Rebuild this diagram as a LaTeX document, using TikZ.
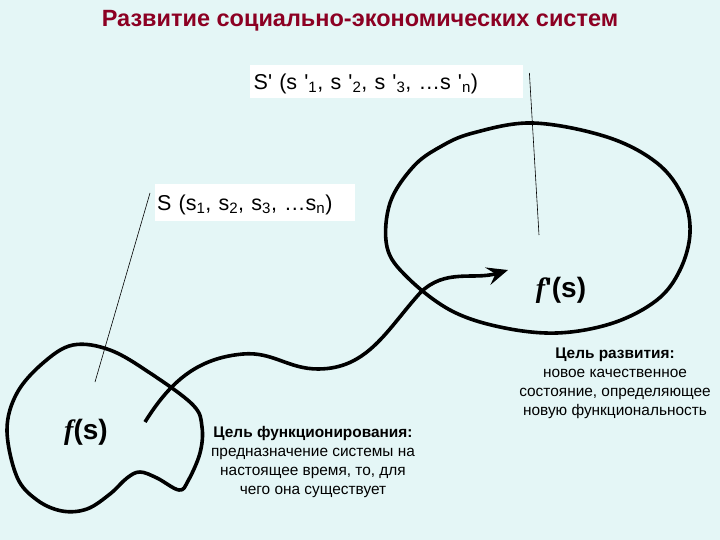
\documentclass[tikz,border=0pt]{standalone}
\usepackage{fontspec}
\setmainfont{Liberation Sans}
\newfontfamily\fserif{Liberation Serif}
\usetikzlibrary{arrows.meta}
\definecolor{bgcyan}{RGB}{228,246,246}
\definecolor{titlered}{RGB}{140,0,35}
\newcommand{\pr}{\textquotesingle}
\newcommand{\fsym}{{\fserif\bfseries\itshape f}}

\begin{document}
\begin{tikzpicture}[x=1pt,y=1pt,
    blob/.style={line width=3.6pt,line join=round},
    pointer/.style={line width=0.6pt},
    setbox/.style={fill=white,font=\fontsize{21.5}{24}\selectfont,anchor=north west,
                   inner sep=0pt,minimum height=33pt,text depth=0pt},
    fun/.style={font=\fontsize{28}{30}\selectfont\bfseries},
    note/.style={align=center,font=\fontsize{15.4}{19}\selectfont}]
      \fill[bgcyan] (0,0) rectangle (720,-540);
      \useasboundingbox (0,0) rectangle (720,-540);

      \node[font=\fontsize{23.5}{26}\selectfont\bfseries,text=titlered] (title) at (360,-21) {Развитие социально-экономических систем};

      % set descriptions
      \node[setbox,minimum width=273pt,text width=268pt,align=left] (Snew) at (250,-65)
        {\hspace*{1pt}S\pr{} (s \pr\textsubscript{1}, s \pr\textsubscript{2}, s \pr\textsubscript{3}, \dots s \pr\textsubscript{n})};
      \node[setbox,minimum width=200pt,text width=198pt,align=left,minimum height=37pt] (Sold) at (155,-184)
        {\hspace*{1pt}S (s\textsubscript{1}, s\textsubscript{2}, s\textsubscript{3}, \dots s\textsubscript{n})};

      % systems
      \draw[blob] plot[smooth cycle,tension=0.6] coordinates {
        (73,-345) (110,-350) (150,-373) (193,-405) (202,-427) (200,-453) (188,-481)
        (179,-490) (157,-478) (140,-472) (127,-478) (110,-494) (87,-509) (62,-511)
        (37,-500) (17,-477) (7,-430) (17,-393) (43,-363)};
      \draw[blob] plot[smooth cycle,tension=0.6] coordinates {
        (473,-133) (533,-123) (607,-137) (657,-163) (683,-197) (690,-233) (680,-270)
        (657,-300) (613,-323) (557,-333) (500,-327) (450,-310) (407,-277) (387,-247)
        (390,-203) (413,-167) (440,-147)};

      \node[fun] (fs) at (86,-432) {\fsym(s)};
      \node[fun] (fsnew) at (561,-290) {\fsym\pr(s)};

      \coordinate (pold) at (95,-382);
      \coordinate (pnew) at (539,-235);
      \coordinate (fstart) at (145,-422);
      \coordinate (fend) at (508,-270);

      \draw[pointer] (Sold.north west) ++(-5,-9) -- (pold);
      \draw[pointer] (Snew.north east) ++(6,-8) -- (pnew);

      % development path
      \draw[blob,-{Stealth[length=21pt,width=18pt,inset=8pt]}] (fstart)
        to[out=58,in=185] (243,-354)
        to[out=5,in=180] (318,-369)
        to[out=0,in=228] (420,-293)
        to[out=45,in=197] (fend);

      \node[note] (goalnow) at (313,-462)
        {\textbf{Цель функционирования:}\\предназначение системы на\\настоящее время, то, для\\чего она существует};
      \node[note] (goalnew) at (615,-383)
        {\textbf{Цель развития:}\\новое качественное\\состояние, определяющее\\новую функциональность};
\end{tikzpicture}
\end{document}
